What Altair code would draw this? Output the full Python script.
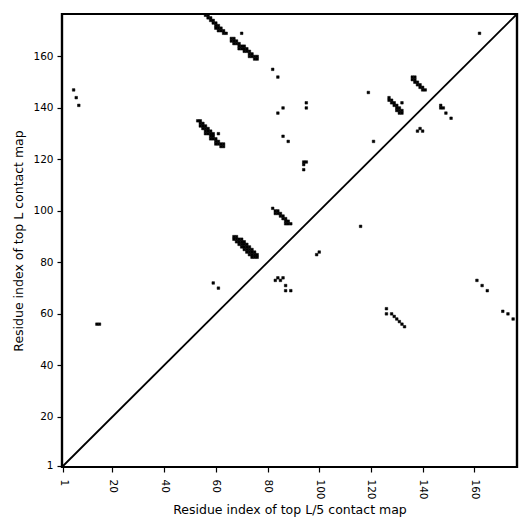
import altair as alt
import pandas as pd

SEQ_LEN = 176
TICKS = [1, 20, 40, 60, 80, 100, 120, 140, 160]

# (residue i, residue j) contacts of the top-L map (upper triangle)
TOP_L_CLUSTER_A = [(56, 176), (57, 176), (57, 175), (58, 175), (58, 174), (59, 174), (59, 173),
                   (60, 173), (60, 172), (61, 172), (60, 171), (61, 171), (62, 171), (61, 170),
                   (62, 170), (63, 170), (63, 169), (64, 169)]
TOP_L_CLUSTER_B = [(66, 167), (67, 167), (66, 166), (67, 166), (68, 166), (67, 165), (68, 165),
                   (69, 165), (69, 164), (70, 164), (71, 164), (69, 163), (70, 163), (71, 163),
                   (72, 163), (71, 162), (72, 162), (73, 162), (73, 161), (74, 161), (73, 160),
                   (74, 160), (75, 160), (76, 160), (75, 159), (76, 159)]
TOP_L_CLUSTER_C = [(53, 135), (54, 135), (54, 134), (55, 134), (54, 133), (55, 133), (56, 133),
                   (55, 132), (56, 132), (57, 132), (56, 131), (57, 131), (58, 131), (56, 130),
                   (57, 130), (58, 130), (59, 130), (58, 129), (59, 129), (61, 130), (58, 128),
                   (59, 128), (60, 128), (60, 127), (61, 127), (60, 126), (61, 126), (62, 126),
                   (63, 126), (62, 125), (63, 125)]
TOP_L_CLUSTER_D = [(67, 90), (68, 90), (67, 89), (68, 89), (69, 89), (70, 89), (68, 88), (69, 88),
                   (70, 88), (71, 88), (69, 87), (70, 87), (71, 87), (72, 87), (70, 86), (71, 86),
                   (72, 86), (73, 86), (71, 85), (72, 85), (73, 85), (74, 85), (72, 84), (73, 84),
                   (74, 84), (75, 84), (73, 83), (74, 83), (75, 83), (76, 83), (74, 82), (75, 82),
                   (76, 82)]
TOP_L_CLUSTER_E = [(82, 101), (83, 100), (84, 100), (83, 99), (84, 99), (85, 99), (85, 98),
                   (86, 98), (86, 97), (87, 97), (87, 96), (88, 96), (87, 95), (88, 95), (89, 95)]
TOP_L_CLUSTER_F = [(136, 152), (137, 152), (136, 151), (137, 151), (137, 150), (138, 150),
                   (138, 149), (139, 149), (139, 148), (140, 148), (140, 147), (141, 147)]
TOP_L_CLUSTER_G = [(127, 144), (127, 143), (128, 143), (128, 142), (129, 142), (129, 141),
                   (130, 141), (132, 142), (130, 140), (131, 140), (130, 139), (131, 139),
                   (132, 139), (131, 138), (132, 138)]
TOP_L_SCATTER = [(70, 169), (82, 155), (84, 152), (95, 142), (95, 140), (86, 140), (84, 138),
                 (86, 129), (88, 127), (94, 119), (95, 119), (94, 118), (94, 116), (162, 169),
                 (5, 147), (6, 144), (7, 141), (59, 72), (61, 70), (14, 56), (15, 56),
                 (119, 146), (121, 127)]

# contacts of the top-L/5 map (lower triangle)
TOP_L5_CONTACTS = [(99, 83), (100, 84), (116, 94), (83, 73), (84, 74), (85, 73), (86, 74),
                   (87, 71), (87, 69), (89, 69), (126, 62), (126, 60), (128, 60), (129, 59),
                   (130, 58), (131, 57), (132, 56), (133, 55), (161, 73), (163, 71), (165, 69),
                   (171, 61), (173, 60), (175, 58), (147, 141), (147, 140), (148, 140),
                   (149, 138), (151, 136), (138, 131), (139, 132), (140, 131)]

top_l = (TOP_L_CLUSTER_A + TOP_L_CLUSTER_B + TOP_L_CLUSTER_C + TOP_L_CLUSTER_D +
         TOP_L_CLUSTER_E + TOP_L_CLUSTER_F + TOP_L_CLUSTER_G + TOP_L_SCATTER)
rows = [{"i": a, "j": b, "map": "top L"} for a, b in top_l]
rows += [{"i": a, "j": b, "map": "top L/5"} for a, b in TOP_L5_CONTACTS]
df = pd.DataFrame(rows)

lo, hi = 0.5, SEQ_LEN + 0.5
xscale = alt.Scale(domain=[lo, hi], nice=False, zero=False)
yscale = alt.Scale(domain=[lo, hi], nice=False, zero=False)

common = dict(grid=False, domain=False, tickColor="black", tickSize=5, tickWidth=1.2,
              labelFontSize=10.5, labelColor="black", titleFontSize=12.5,
              titleFontWeight="normal", titleColor="black")
xaxis = alt.Axis(values=TICKS, labelAngle=90, title="Residue index of top L/5 contact map",
                 labelPadding=7, titlePadding=4, **common)
yaxis = alt.Axis(values=TICKS, title="Residue index of top L contact map",
                 labelPadding=4, titlePadding=7, **common)

cells = alt.Chart(df).transform_calculate(
    x0="datum.i - 0.5", x1="datum.i + 0.5", y0="datum.j - 0.5", y1="datum.j + 0.5"
).mark_rect(color="black", stroke="black", strokeWidth=0.5).encode(
    x=alt.X("x0:Q", scale=xscale, axis=xaxis),
    x2="x1:Q",
    y=alt.Y("y0:Q", scale=yscale, axis=yaxis),
    y2="y1:Q",
)

diag_df = pd.DataFrame({"d": [lo, hi]})
diag = alt.Chart(diag_df).mark_line(color="black", strokeWidth=1.8).encode(
    x=alt.X("d:Q", scale=xscale),
    y=alt.Y("d:Q", scale=yscale),
)

frame = alt.Chart(diag_df).mark_rect(filled=False, stroke="black", strokeWidth=2.2).encode(
    x=alt.value(0), x2=alt.value(455), y=alt.value(0), y2=alt.value(453)
)

chart = alt.layer(cells, diag, frame).properties(
    width=455, height=453,
    autosize=alt.AutoSizeParams(type="none"),
    padding={"left": 54, "top": 6, "right": 5, "bottom": 54},
).configure_view(stroke=None).configure(font="DejaVu Sans")

chart.save("out.html", embed_options={"renderer": "svg", "actions": False})
